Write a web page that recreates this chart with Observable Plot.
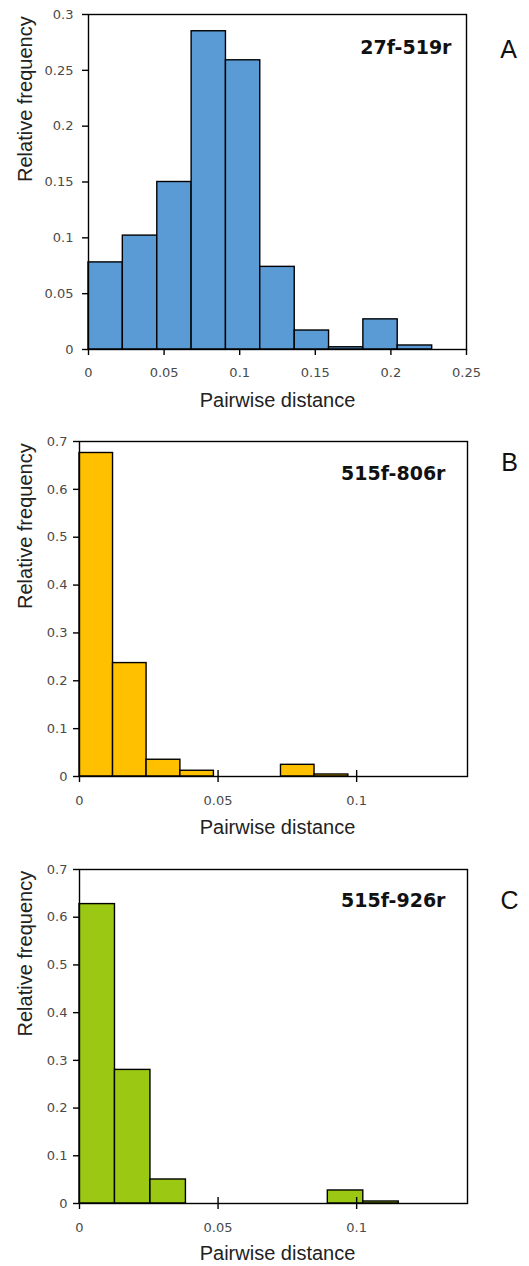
<!DOCTYPE html>
<html>
<head>
<meta charset="utf-8">
<script src="https://cdn.jsdelivr.net/npm/d3@7"></script>
<script src="https://cdn.jsdelivr.net/npm/@observablehq/plot@0.6"></script>
<style>
  html, body { margin: 0; padding: 0; background: #fff; }
  #chart svg { display: block; }
</style>
</head>
<body>
<div id="chart"></div>
<script>
// ---- Panel A: 27f-519r ----
const edgesA = [0, 0.0227, 0.0455, 0.0682, 0.0909, 0.1136, 0.1364, 0.1591, 0.1818, 0.2045, 0.2273, 0.25];
const freqA  = [0.078, 0.102, 0.150, 0.285, 0.259, 0.074, 0.017, 0.002, 0.027, 0.0036, 0];
const xTicksA = [0, 0.05, 0.1, 0.15, 0.2, 0.25];
const yTicksA = [0, 0.05, 0.1, 0.15, 0.2, 0.25, 0.3];

// ---- Panel B: 515f-806r ----
const edgesB = [0, 0.0121, 0.0242, 0.0364, 0.0485, 0.0606, 0.0727, 0.0848, 0.0970, 0.1091, 0.1212, 0.1333];
const freqB  = [0.676, 0.237, 0.035, 0.012, 0, 0, 0.0244, 0.0042, 0, 0, 0];
const xTicksB = [0, 0.05, 0.1];
const yTicksB = [0, 0.1, 0.2, 0.3, 0.4, 0.5, 0.6, 0.7];

// ---- Panel C: 515f-926r ----
const edgesC = [0, 0.0128, 0.0256, 0.0384, 0.0512, 0.0640, 0.0768, 0.0896, 0.1024, 0.1152, 0.128];
const freqC  = [0.6275, 0.280, 0.0503, 0, 0, 0, 0, 0.0273, 0.0042, 0];
const xTicksC = [0, 0.05, 0.1];
const yTicksC = [0, 0.1, 0.2, 0.3, 0.4, 0.5, 0.6, 0.7];

const primers = ["27f-519r", "515f-806r", "515f-926r"];
const letters = ["A", "B", "C"];
const colors  = ["#5B9BD5", "#FFC000", "#9BC812"];
const xTitle = "Pairwise distance";
const yTitle = "Relative frequency";

const fmt = d3.format("~g");
const titleFont = "Liberation Sans, Arial, sans-serif";
const tickFont = "DejaVu Sans, sans-serif";

function toBins(edges, freq) {
  return freq.map((f, i) => ({x1: edges[i], x2: edges[i + 1], y: f}));
}

function panel(cfg) {
  const marks = [
    Plot.rectY(toBins(cfg.edges, cfg.freq), {
      x1: "x1", x2: "x2", y: "y",
      fill: cfg.color, stroke: "black", strokeWidth: 1.4
    }),
    Plot.frame({stroke: "black", strokeWidth: 1.4}),
    Plot.axisY({
      ticks: cfg.yTicks, tickSize: 6, tickPadding: cfg.yPad, tickFormat: fmt,
      fontFamily: tickFont, fontSize: 13, fill: "#4a4a4a",
      stroke: "black", strokeWidth: 1.4, label: null
    }),
    Plot.axisX({
      ticks: cfg.xTicks, tickSize: 6, tickPadding: cfg.xPad, tickFormat: fmt,
      fontFamily: tickFont, fontSize: 13, fill: "#4a4a4a",
      stroke: "black", strokeWidth: 1.4, label: null
    }),
    Plot.text([xTitle], {
      text: d => d, frameAnchor: "bottom", dy: cfg.xTitleDy, dx: cfg.xTitleDx,
      lineAnchor: "middle", fontFamily: titleFont, fontSize: 20, fill: "#222"
    }),
    Plot.text([yTitle], {
      text: d => d, frameAnchor: "left", dx: cfg.yTitleDx, rotate: -90,
      lineAnchor: "middle", fontFamily: titleFont, fontSize: 20, fill: "#222"
    }),
    Plot.text([cfg.primer], {
      text: d => d, frameAnchor: "top-right", textAnchor: "end",
      dx: cfg.primerDx, dy: cfg.primerDy, lineAnchor: "middle",
      fontFamily: tickFont, fontWeight: "bold", fontSize: 19, fill: "#111"
    }),
    Plot.text([cfg.letter], {
      text: d => d, frameAnchor: "top-right", textAnchor: "middle",
      dx: cfg.letterDx, dy: cfg.letterDy, lineAnchor: "middle",
      fontFamily: titleFont, fontSize: 25, fill: "#111"
    })
  ];
  if (cfg.crossTicks) {
    marks.push(Plot.ruleX(cfg.crossTicks, {
      x: d => d, y1: 0, y2: 0, insetTop: 0, insetBottom: 6,
      stroke: "black", strokeWidth: 1.4
    }));
  }
  return Plot.plot({
    width: 529,
    height: cfg.height,
    marginTop: cfg.mt, marginBottom: cfg.mb,
    marginLeft: cfg.ml, marginRight: cfg.mr,
    style: {fontFamily: tickFont, fontSize: "13px", color: "black", background: "white", overflow: "visible"},
    x: {domain: cfg.xDomain, axis: null},
    y: {domain: cfg.yDomain, axis: null},
    marks
  });
}

const chart = document.getElementById("chart");

chart.append(panel({
  edges: edgesA, freq: freqA, color: colors[0], xTicks: xTicksA, yTicks: yTicksA,
  xDomain: [0, 0.25], yDomain: [0, 0.3], primer: primers[0], letter: letters[0],
  height: 420, mt: 14, mb: 71, ml: 88, mr: 63,
  yPad: 9, xPad: 12, xTitleDy: 51, xTitleDx: 0, yTitleDx: -63,
  primerDx: -15, primerDy: 33, letterDx: 42, letterDy: 35
}));

chart.append(panel({
  edges: edgesB, freq: freqB, color: colors[1], xTicks: xTicksB, yTicks: yTicksB,
  xDomain: [0, 0.14], yDomain: [0, 0.7], primer: primers[1], letter: letters[1],
  height: 420, mt: 21, mb: 64, ml: 79, mr: 62,
  yPad: 6, xPad: 13, xTitleDy: 51, xTitleDx: 4, yTitleDx: -54,
  primerDx: -22, primerDy: 32, letterDx: 42, letterDy: 21, crossTicks: [0.05, 0.1]
}));

chart.append(panel({
  edges: edgesC, freq: freqC, color: colors[2], xTicks: xTicksC, yTicks: yTicksC,
  xDomain: [0, 0.14], yDomain: [0, 0.7], primer: primers[2], letter: letters[2],
  height: 426, mt: 29, mb: 63, ml: 79, mr: 62,
  yPad: 6, xPad: 13, xTitleDy: 50, xTitleDx: 4, yTitleDx: -54,
  primerDx: -22, primerDy: 31, letterDx: 42, letterDy: 31, crossTicks: [0.05, 0.1]
}));
</script>
</body>
</html>
